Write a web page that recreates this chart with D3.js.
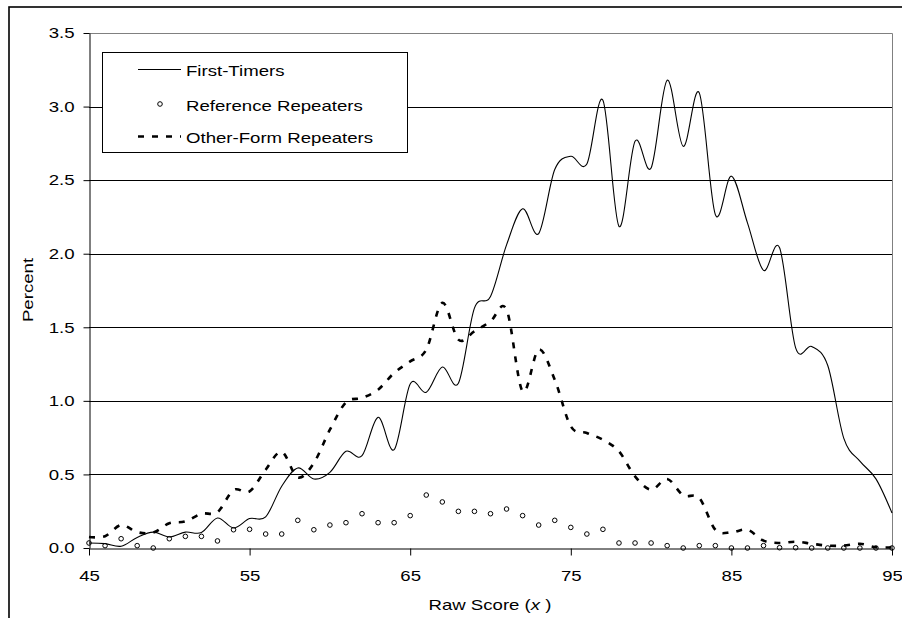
<!DOCTYPE html>
<html>
<head>
<meta charset="utf-8">
<script src="https://cdn.jsdelivr.net/npm/d3@7"></script>
<style>
  body { margin: 0; background: #fff; }
  text { font-family: "Liberation Sans", Arial, sans-serif; font-size: 15px; fill: #000; }
</style>
</head>
<body>
<div id="chart"></div>
<script>
// raw score categories 45..95
const scores = d3.range(45, 96);

const firstTimers = [
  0.034, 0.03, 0.012, 0.072, 0.108, 0.075, 0.108, 0.105, 0.204, 0.136,
  0.2, 0.212, 0.42, 0.544, 0.469, 0.514, 0.657, 0.627, 0.888, 0.668,
  1.115, 1.058, 1.23, 1.12, 1.63, 1.71, 2.06, 2.305, 2.137, 2.572,
  2.662, 2.61, 3.043, 2.186, 2.764, 2.583, 3.179, 2.73, 3.093, 2.266,
  2.527, 2.21, 1.887, 2.04, 1.36, 1.37, 1.24, 0.745, 0.59, 0.47,
  0.238
];

const referenceRepeaters = [
  0.034, 0.016, 0.063, 0.016, 0.0, 0.063, 0.079, 0.079, 0.048, 0.124,
  0.127, 0.095, 0.095, 0.188, 0.124, 0.156, 0.172, 0.233, 0.172, 0.172,
  0.22, 0.36, 0.313, 0.249, 0.249, 0.233, 0.265, 0.22, 0.156, 0.188,
  0.14, 0.095, 0.127, 0.034, 0.034, 0.034, 0.016, 0.0, 0.016, 0.016,
  0.0, 0.0, 0.016, 0.002, 0.002, 0.0, 0.0, 0.0, 0.0, 0.0,
  0.0
];

const otherFormRepeaters = [
  0.075, 0.08, 0.156, 0.108, 0.105, 0.168, 0.181, 0.233, 0.244, 0.394,
  0.385, 0.532, 0.653, 0.48, 0.578, 0.804, 0.99, 1.02, 1.076, 1.19,
  1.268, 1.348, 1.666, 1.416, 1.472, 1.54, 1.62, 1.065, 1.348, 1.144,
  0.827, 0.782, 0.736, 0.657, 0.487, 0.396, 0.469, 0.358, 0.34, 0.124,
  0.106, 0.124, 0.05, 0.034, 0.043, 0.029, 0.016, 0.016, 0.029, 0.005,
  0.005
];

const xTicks = [45, 55, 65, 75, 85, 95];
const yTicks = [0, 0.5, 1.0, 1.5, 2.0, 2.5, 3.0, 3.5];
const legendLabels = ["First-Timers", "Reference Repeaters", "Other-Form Repeaters"];

(() => {
  const width = 902, height = 618;
  const plot = { left: 89, right: 892, top: 33, bottom: 548 };

  const svg = d3
    .select("#chart")
    .append("svg")
    .attr("width", width)
    .attr("height", height);

  // outer chart frame (only left and top edges are in the picture)
  svg
    .append("rect")
    .attr("x", 9)
    .attr("y", 7)
    .attr("width", 1000)
    .attr("height", 1000)
    .attr("fill", "none")
    .attr("stroke", "#000")
    .attr("stroke-width", 1.6);

  const xScale = d3.scaleLinear().domain([45, 95]).range([plot.left, plot.right]);
  const yScale = d3.scaleLinear().domain([0, 3.5]).range([plot.bottom, plot.top]);

  // grid lines
  svg
    .append("g")
    .selectAll("line")
    .data(yTicks.slice(1, -1))
    .enter()
    .append("line")
    .attr("x1", plot.left)
    .attr("x2", plot.right)
    .attr("y1", (d) => Math.round(yScale(d)) + 0.5)
    .attr("y2", (d) => Math.round(yScale(d)) + 0.5)
    .attr("stroke", "#000");

  // plot area border, grey on top and right
  svg
    .append("path")
    .attr("d", `M${plot.left},${plot.top + 0.5}H${plot.right + 0.5}V${plot.bottom}`)
    .attr("fill", "none")
    .attr("stroke", "#808080");

  const yAxis = svg
    .append("g")
    .attr("transform", `translate(${plot.left + 0.5},0)`)
    .call(
      d3
        .axisLeft(yScale)
        .tickValues(yTicks)
        .tickFormat(d3.format(".1f"))
        .tickSizeInner(6)
        .tickSizeOuter(0)
        .tickPadding(9)
    );

  const xAxis = svg
    .append("g")
    .attr("transform", `translate(0,${plot.bottom + 0.5})`)
    .call(
      d3
        .axisBottom(xScale)
        .tickValues(xTicks)
        .tickSizeInner(7)
        .tickSizeOuter(0)
        .tickPadding(15)
    );

  [yAxis, xAxis].forEach((ax) => {
    ax.attr("font-size", null).attr("font-family", null);
    ax.selectAll("path, line").attr("stroke", "#000");
    ax.selectAll("text").attr("fill", "#000");
  });

  // series
  const curve = d3.curveCatmullRom.alpha(0);
  const line = (values) =>
    d3
      .line()
      .x((d, i) => xScale(scores[i]))
      .y((d) => yScale(d))
      .curve(curve)(values);

  svg
    .append("g")
    .selectAll("circle")
    .data(referenceRepeaters)
    .enter()
    .append("circle")
    .attr("cx", (d, i) => xScale(scores[i]))
    .attr("cy", (d) => yScale(d))
    .attr("r", 2.3)
    .attr("fill", "none")
    .attr("stroke", "#000")
    .attr("stroke-width", 1);

  svg
    .append("path")
    .attr("d", line(otherFormRepeaters))
    .attr("fill", "none")
    .attr("stroke", "#000")
    .attr("stroke-width", 2.6)
    .attr("stroke-dasharray", "6,8");

  svg
    .append("path")
    .attr("d", line(firstTimers))
    .attr("fill", "none")
    .attr("stroke", "#000")
    .attr("stroke-width", 1.1);

  // axis titles
  svg
    .append("text")
    .attr("transform", "translate(33,290) rotate(-90)")
    .attr("text-anchor", "middle")
    .text("Percent");

  const xTitle = svg
    .append("text")
    .attr("x", 490)
    .attr("y", 610)
    .attr("text-anchor", "middle");
  xTitle.append("tspan").text("Raw Score (");
  xTitle.append("tspan").attr("font-style", "italic").text("x");
  xTitle.append("tspan").text(" )");

  // legend
  const legend = svg.append("g");
  legend
    .append("rect")
    .attr("x", 102.5)
    .attr("y", 52.5)
    .attr("width", 305)
    .attr("height", 100)
    .attr("fill", "#fff")
    .attr("stroke", "#000");

  const rows = [69.5, 104, 136.5];
  legend
    .append("line")
    .attr("x1", 138)
    .attr("x2", 181)
    .attr("y1", rows[0])
    .attr("y2", rows[0])
    .attr("stroke", "#000")
    .attr("stroke-width", 1.1);
  legend
    .append("circle")
    .attr("cx", 160)
    .attr("cy", rows[1])
    .attr("r", 2.3)
    .attr("fill", "none")
    .attr("stroke", "#000");
  legend
    .append("line")
    .attr("x1", 138)
    .attr("x2", 181)
    .attr("y1", rows[2])
    .attr("y2", rows[2])
    .attr("stroke", "#000")
    .attr("stroke-width", 2.6)
    .attr("stroke-dasharray", "6,8");

  legend
    .selectAll("text.label")
    .data(legendLabels)
    .enter()
    .append("text")
    .attr("class", "label")
    .attr("x", 186)
    .attr("y", (d, i) => rows[i] + 6.5)
    .text((d) => d);

  // the reference glyphs are set wider than Arial, stretch every label
  svg.selectAll("text").each(function () {
    const len = this.getComputedTextLength();
    d3.select(this)
      .attr("textLength", len * 1.24)
      .attr("lengthAdjust", "spacingAndGlyphs");
  });
})();
</script>
</body>
</html>
